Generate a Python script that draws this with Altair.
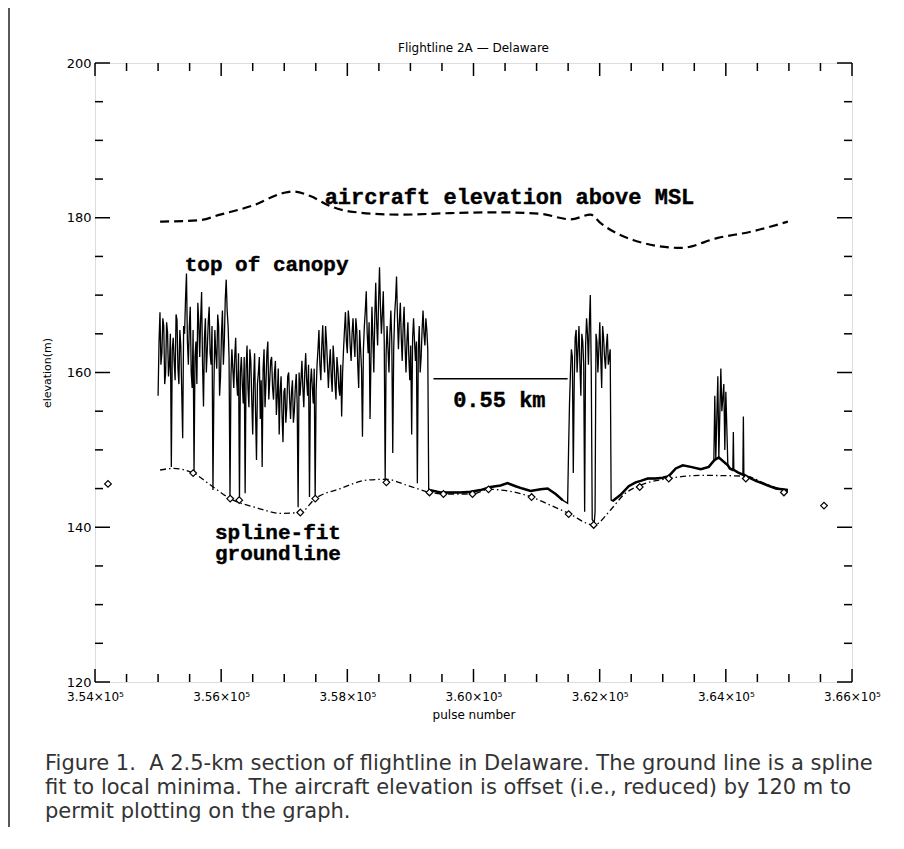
import altair as alt
import pandas as pd

# ---------------- data ----------------
# canopy trace, first forested stretch: samples every 30 pulses ...
canopy_a_start = 355000
canopy_a_step = 30
canopy_a_elev = [
    157.0, 167.8, 162.5, 166.0, 160.0, 165.2, 161.0, 147.8, 164.5, 159.0,
    166.8, 158.5, 163.5, 151.5, 165.0, 172.8, 161.0, 168.5, 158.0, 147.0,
    164.0, 169.0, 162.0, 170.4, 155.6, 167.0, 163.0, 168.5, 161.0, 144.8,
    165.5, 160.5, 166.0, 159.5, 168.0, 164.0, 172.0, 166.0, 143.7, 163.0,
    158.0, 164.5, 157.0, 143.5, 162.0, 156.0, 144.4, 163.5, 155.5, 161.5,
    152.0, 162.5, 148.7, 160.0, 154.0, 147.8, 163.0, 158.5, 164.0, 159.0,
    162.0, 156.5, 161.5, 157.0, 152.0, 159.5, 151.0, 158.0, 155.5, 160.0,
    154.0, 159.0, 155.0, 159.8, 142.6, 157.0, 161.5, 155.5, 162.5, 157.0,
    143.9, 160.5, 156.0, 143.7, 161.0, 165.5, 159.0, 166.1, 160.0, 164.0,
    158.0, 163.0, 157.5, 161.5, 156.5, 160.5, 157.0, 154.3, 163.0, 167.8,
    162.5, 166.5, 161.5, 167.0, 162.0, 165.5, 158.0, 163.0, 151.7, 166.0,
    170.5, 162.5, 154.0, 168.5, 160.0, 171.6, 163.5, 173.6, 165.0, 170.5,
    146.1, 166.0, 160.0, 168.0, 149.6, 167.5, 172.4, 163.0, 169.0, 161.5,
    168.5, 160.0, 166.5, 159.0, 152.0, 167.0, 161.5, 145.7, 166.0, 162.0,
    168.0, 163.5, 165.5, 144.8,
]
# ... and the returns lying halfway between those samples
canopy_a_mid_elev = [
    164.0, 161.0, 167.0, 158.5, 166.5, 159.5, 165.0, 163.0, 161.5, 167.5,
    160.5, 165.5, 157.5, 166.0, 169.5, 164.0, 166.0, 160.0, 165.5, 162.0,
    158.5, 166.5, 167.0, 161.0, 164.5, 160.0, 166.5, 162.5, 166.0, 158.0,
    162.5, 167.5, 157.0, 165.0, 161.0, 169.5, 168.0, 162.0, 159.5, 160.5,
    162.0, 159.0, 162.5, 160.0, 158.5, 162.0, 160.5, 158.0, 163.0, 156.5,
    159.0, 155.0, 158.5, 162.0, 159.0, 160.5, 155.5, 162.5, 156.5, 161.5,
    158.0, 160.0, 154.5, 160.5, 157.5, 154.5, 157.5, 153.5, 159.5, 156.5,
    157.5, 153.5, 158.0, 156.0, 160.0, 159.0, 158.0, 160.0, 159.0, 161.0,
    158.5, 158.0, 160.5, 157.5, 163.0, 161.0, 163.5, 162.0, 166.0, 161.0,
    161.0, 159.5, 163.5, 158.5, 162.0, 158.0, 161.0, 160.0, 165.5, 164.0,
    168.0, 163.5, 165.0, 164.0, 167.0, 161.0, 165.5, 160.5, 163.0, 168.0,
    165.0, 166.5, 162.0, 164.5, 167.0, 166.5, 169.0, 168.5, 167.5, 164.0,
    162.5, 163.0, 165.0, 164.0, 163.0, 169.5, 167.0, 166.5, 164.5, 166.0,
    163.5, 164.0, 162.0, 163.5, 164.5, 164.0, 164.0, 163.0, 160.0, 165.5,
    165.0, 167.0, 163.0,
]
# open ground between the two stands
ground_mid_pulse = [359317, 359476, 359635, 359794, 359952, 360111, 360270, 360429,
                    360540, 360667, 360778, 360905, 361063, 361175, 361302, 361413]
ground_mid_elev = [144.8, 144.5, 144.5, 144.5, 144.6, 144.8, 145.2, 145.4,
                   145.7, 145.3, 145.0, 144.7, 144.9, 145.0, 144.3, 143.5]
# second forested stretch
canopy_b_start = 361492
canopy_b_step = 30
canopy_b_elev = [
    143.1, 156.0, 163.0, 147.0, 164.5, 160.0, 166.0, 157.0, 164.0, 142.0,
    167.0, 161.0, 170.0, 141.0, 140.3, 165.0, 160.0, 166.5, 158.0, 164.5,
    160.5, 165.0, 162.0, 143.5,
]
canopy_b_mid_elev = [
    150.0, 160.0, 162.0, 159.0, 165.5, 163.0, 161.0, 165.0, 161.0, 163.5,
    165.0, 166.5, 160.0, 140.8, 142.0, 164.0, 163.0, 162.0, 166.0, 162.0,
    163.5, 161.0, 163.0,
]
# open ground with a few isolated returns
ground_end_pulse = [362206, 362333, 362460, 362571, 362651, 362762, 362889, 363000,
                    363095, 363206, 363317, 363444, 363603, 363730, 363810, 363825,
                    363841, 363873, 363889, 363921, 363937, 363968, 363984, 364000,
                    364032, 364063, 364111, 364119, 364127, 364190, 364270, 364278,
                    364286, 364349, 364476, 364667, 364794, 364984]
ground_end_elev = [143.4, 144.2, 145.3, 145.8, 146.0, 146.3, 146.3, 146.4,
                   146.6, 147.6, 148.0, 147.8, 147.5, 147.8, 148.6, 157.0,
                   148.8, 159.5, 149.0, 160.5, 155.0, 158.5, 150.0, 157.5,
                   148.0, 147.6, 147.4, 152.3, 147.4, 147.1, 146.8, 154.3,
                   146.8, 146.5, 146.0, 145.4, 145.0, 144.8]

# spline-fit ground line
spline_pulse = [355032, 355238, 355556, 355873, 356143, 356571, 356937, 357254, 357492,
                357889, 358317, 358619, 358952, 359317, 359524, 359984, 360238, 360921,
                361206, 361508, 361905, 362190, 362380, 362635, 363095, 363603, 364317,
                364635, 364984]
spline_elev = [147.4, 147.6, 147.0, 145.2, 143.7, 142.5, 141.8, 141.9, 143.7,
               145.0, 146.1, 146.2, 145.4, 144.5, 144.3, 144.3, 144.9, 143.9,
               142.9, 141.8, 140.3, 142.4, 144.2, 145.4, 146.3, 146.7, 146.6,
               145.6, 144.6]

# local minima (diamonds)
minima_pulse = [354206, 355556, 356143, 356286, 357254, 357492, 358619, 359302, 359524,
                359984, 360238, 360921, 361508, 361905, 362635, 363095, 364317, 364921,
                365556]
minima_elev = [145.6, 147.0, 143.7, 143.5, 141.9, 143.7, 145.8, 144.5, 144.3,
               144.3, 144.9, 143.9, 141.7, 140.3, 145.2, 146.3, 146.3, 144.5,
               142.8]

# aircraft elevation (offset by 120 m)
aircraft_pulse = [355032, 355667, 355984, 356508, 356984, 357143, 357413, 357730, 358048,
                  358841, 359635, 360429, 361063, 361540, 361857, 362016, 362540, 363286,
                  363873, 364397, 364984]
aircraft_elev = [179.5, 179.7, 180.4, 181.6, 183.2, 183.4, 182.8, 181.5, 180.8,
                 180.4, 180.6, 180.7, 180.5, 179.8, 180.4, 179.3, 177.1, 176.1,
                 177.4, 178.2, 179.5]

x_major = [354000, 356000, 358000, 360000, 362000, 364000, 366000]
x_minor = [p for p in range(354000, 366001, 500) if p % 2000]
y_major = [120, 140, 160, 180, 200]
y_minor = [v for v in range(120, 201, 5) if v % 20]

title_text = "Flightline 2A — Delaware"
caption_lines = [
    "Figure 1.\u00a0\u00a0A 2.5-km section of flightline in Delaware. The ground line is a spline",
    "fit to local minima. The aircraft elevation is offset (i.e., reduced) by 120 m to",
    "permit plotting on the graph.",
]

# ---------------- frames ----------------
half = canopy_a_step // 2
canopy_a_pulse = [canopy_a_start + canopy_a_step * i for i in range(len(canopy_a_elev))]
canopy_a_mid_pulse = [canopy_a_start + half + canopy_a_step * i
                      for i in range(len(canopy_a_mid_elev))]
canopy_b_pulse = [canopy_b_start + canopy_b_step * i for i in range(len(canopy_b_elev))]
canopy_b_mid_pulse = [canopy_b_start + half + canopy_b_step * i
                      for i in range(len(canopy_b_mid_elev))]

trace = pd.DataFrame({
    "pulse": canopy_a_pulse + canopy_a_mid_pulse + ground_mid_pulse + canopy_b_pulse
    + canopy_b_mid_pulse + ground_end_pulse,
    "elev": canopy_a_elev + canopy_a_mid_elev + ground_mid_elev + canopy_b_elev
    + canopy_b_mid_elev + ground_end_elev,
}).sort_values("pulse")
ground = pd.DataFrame({
    "pulse": ground_mid_pulse + ground_end_pulse,
    "elev": ground_mid_elev + ground_end_elev,
    "seg": ["mid"] * len(ground_mid_pulse) + ["end"] * len(ground_end_pulse),
})
ground = ground[ground["elev"] < 149.5]
spline = pd.DataFrame({"pulse": spline_pulse, "elev": spline_elev})
minima = pd.DataFrame({"pulse": minima_pulse, "elev": minima_elev})
aircraft = pd.DataFrame({"pulse": aircraft_pulse, "elev": aircraft_elev})
one = pd.DataFrame({"k": [0]})

W, H = 757, 619
AX_FONT = "DejaVu Sans"
MONO = "Liberation Mono"

xs = alt.Scale(domain=[354000, 366000], nice=False, zero=False)
ys = alt.Scale(domain=[120, 200], nice=False, zero=False)
x_axis = alt.Axis(values=x_major, labelExpr="format(datum.value/100000, '.2f') + '×10⁵'",
                  ticks=False, domain=False, grid=False, labelFontSize=12, labelFont=AX_FONT,
                  labelColor="black", labelPadding=9, title="pulse number", titleFont=AX_FONT,
                  titleFontSize=12, titleFontWeight="normal", titleColor="black", titlePadding=7,
                  labelFlush=False)
y_axis = alt.Axis(values=y_major, format="d", ticks=False, domain=False, grid=False,
                  labelFontSize=13, labelFont=AX_FONT, labelColor="black", labelPadding=4,
                  title="elevation(m)", titleFont=AX_FONT, titleFontSize=11,
                  titleFontWeight="normal", titleColor="black", titlePadding=14)

X = alt.X("pulse:Q", scale=xs, axis=x_axis)
Y = alt.Y("elev:Q", scale=ys, axis=y_axis)

trace_layer = alt.Chart(trace).mark_line(color="black", strokeWidth=1.3).encode(x=X, y=Y)
ground_layer = alt.Chart(ground).mark_line(color="black", strokeWidth=2.5).encode(
    x=X, y=Y, detail="seg:N")
spline_layer = alt.Chart(spline).mark_line(
    color="black", strokeWidth=1.3, strokeDash=[6, 3, 1.5, 3], interpolate="monotone"
).encode(x=X, y=Y)
aircraft_layer = alt.Chart(aircraft).mark_line(
    color="black", strokeWidth=2.2, strokeDash=[9, 5], interpolate="monotone"
).encode(x=X, y=Y)
minima_layer = alt.Chart(minima).mark_point(
    shape="diamond", filled=True, fill="white", stroke="black", strokeWidth=1.2,
    size=45, opacity=1
).encode(x=X, y=Y)

scale_bar = alt.Chart(one).mark_rule(color="black", strokeWidth=1.6).encode(
    x=alt.datum(359365), x2=alt.datum(361492), y=alt.datum(159.2))


def label(text, px, ev, size):
    return alt.Chart(one).mark_text(
        text=text, font=MONO, fontWeight="bold", fontSize=size, color="black",
        align="center", baseline="middle", stroke="black", strokeWidth=0.4
    ).encode(x=alt.datum(px), y=alt.datum(ev))


labels = [
    label("aircraft elevation above MSL", 360570, 182.7, 22),
    label("top of canopy", 356720, 173.9, 21),
    label("0.55 km", 360410, 156.5, 22),
    label("spline-fit", 356900, 139.3, 21),
    label("groundline", 356900, 136.6, 21),
]

# inward ticks on all four sides
xmaj = pd.DataFrame({"pulse": x_major})
xmin = pd.DataFrame({"pulse": x_minor})
ymaj = pd.DataFrame({"elev": y_major})
ymin = pd.DataFrame({"elev": y_minor})


def xticks(df, L):
    b = alt.Chart(df).mark_rule(color="black", strokeWidth=1.5).encode(
        x=X, y=alt.value(H), y2=alt.value(H - L))
    t = alt.Chart(df).mark_rule(color="black", strokeWidth=1.5).encode(
        x=X, y=alt.value(0), y2=alt.value(L))
    return [b, t]


def yticks(df, L):
    l = alt.Chart(df).mark_rule(color="black", strokeWidth=1.5).encode(
        y=Y, x=alt.value(0), x2=alt.value(L))
    r = alt.Chart(df).mark_rule(color="black", strokeWidth=1.5).encode(
        y=Y, x=alt.value(W), x2=alt.value(W - L))
    return [l, r]


ticks = xticks(xmaj, 13) + xticks(xmin, 8) + yticks(ymaj, 15) + yticks(ymin, 8)

title = alt.Chart(one).mark_text(
    text=title_text, font=AX_FONT, fontSize=12, color="black", align="center",
    baseline="middle"
).encode(x=alt.value(W / 2), y=alt.value(-15))

caption = alt.Chart(one).mark_text(
    text=caption_lines, font="DejaVu Sans", fontSize=21, color="#333333",
    align="left", baseline="top", lineHeight=24
).encode(x=alt.value(-50), y=alt.value(690))

frame = alt.Chart(one).mark_rule(color="#222222", strokeWidth=1.5).encode(
    x=alt.value(-86), y=alt.value(-63), y2=alt.value(786))

chart = alt.layer(
    trace_layer, ground_layer, spline_layer, aircraft_layer, minima_layer, scale_bar,
    *labels, *ticks, title, caption, frame
).properties(
    width=W, height=H,
    padding={"left": 87, "top": 55, "right": 40, "bottom": 145},
    autosize=alt.AutoSizeParams(type="none"),
).configure_view(stroke="black", strokeWidth=2).configure(background="white")

chart.save("out.html", embed_options={"renderer": "svg", "actions": False})
